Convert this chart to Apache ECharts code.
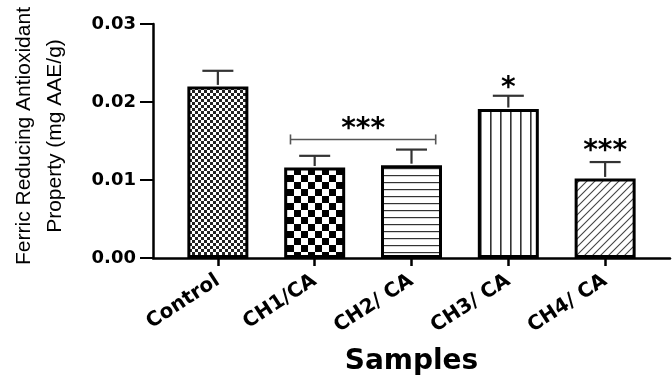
<!DOCTYPE html>
<html>
<head>
<meta charset="utf-8">
<script src="https://cdn.jsdelivr.net/npm/echarts@6/dist/echarts.min.js"></script>
<style>
html,body{margin:0;padding:0;background:#fff;}
#chart{width:672px;height:375px;}
</style>
</head>
<body>
<div id="chart"></div>
<script>
// ---- data ----
const categories = ['Control', 'CH1/CA', 'CH2/ CA', 'CH3/ CA', 'CH4/ CA'];
const means = [0.0220, 0.0116, 0.0119, 0.0191, 0.0102];
const errors = [0.0020, 0.0015, 0.0020, 0.0017, 0.0021];
const yTicks = [0, 0.01, 0.02, 0.03];
const sigText = ['***', '*', '***'];
const sigX = [1.5, 3, 4];
const sigY = [0.0171, 0.0224, 0.0143];
const bracketFrom = [0.75];
const bracketTo = [2.25];
const bracketY = [0.0152];
const xTitle = 'Samples';
const yTitle = 'Ferric Reducing Antioxidant\nProperty (mg AAE/g)';

// ---- patterns ----
function mk(w, h, draw) {
  const c = document.createElement('canvas');
  c.width = w; c.height = h;
  const g = c.getContext('2d');
  g.fillStyle = '#fff'; g.fillRect(0, 0, w, h);
  draw(g, w, h);
  return { image: c, repeat: 'repeat' };
}
const patterns = [
  mk(6, 6, (g) => { g.fillStyle = '#222'; g.fillRect(0, 0, 3, 3); g.fillRect(3, 3, 3, 3); }),
  mk(14, 14, (g) => { g.fillStyle = '#000'; g.fillRect(0, 0, 7, 7); g.fillRect(7, 7, 7, 7); }),
  mk(7, 7, (g) => { g.fillStyle = '#333'; g.fillRect(0, 0, 7, 1.2); }),
  mk(10.5, 10, (g) => { g.fillStyle = '#333'; g.fillRect(0, 0, 1.6, 10); }),
  mk(8, 8, (g) => { g.strokeStyle = '#444'; g.lineWidth = 1.1; g.beginPath();
    g.moveTo(-1, 9); g.lineTo(9, -1); g.moveTo(-1, 1); g.lineTo(1, -1); g.moveTo(7, 9); g.lineTo(9, 7); g.stroke(); })
];

const barData = means.map((v, i) => ({
  value: [i, v],
  itemStyle: { color: patterns[i] }
}));
const errData = means.map((v, i) => [i, v, errors[i]]);
const sigData = sigText.map((t, i) => [sigX[i], sigY[i], i]);
const bracketData = bracketFrom.map((f, i) => [f, bracketTo[i], bracketY[i]]);

const chart = echarts.init(document.getElementById('chart'), null, { renderer: 'canvas' });
const boldFont = 'DejaVu Sans';
chart.setOption({
  animation: false,
  backgroundColor: '#fff',
  grid: { left: 153, right: 2, top: 24, bottom: 117, containLabel: false, outerBoundsMode: 'none' },
  xAxis: {
    type: 'value',
    min: -0.67, max: 4.67,
    splitLine: { show: false },
    axisLine: { show: true, onZero: false, lineStyle: { color: '#000', width: 2.5 } },
    axisTick: { show: true, customValues: [0, 1, 2, 3, 4], length: 8, lineStyle: { color: '#000', width: 2.5 } },
    axisLabel: {
      customValues: [0, 1, 2, 3, 4],
      formatter: (v) => categories[Math.round(v)],
      rotate: 33, margin: 21,
      fontFamily: boldFont, fontWeight: 'bold', fontSize: 20, color: '#000'
    }
  },
  yAxis: {
    type: 'value', min: 0, max: 0.03, interval: 0.01,
    splitLine: { show: false },
    axisLine: { show: true, onZero: false, lineStyle: { color: '#000', width: 2.5 } },
    axisTick: { show: true, length: 13, lineStyle: { color: '#000', width: 2 } },
    axisLabel: {
      margin: 17,
      formatter: (v) => v.toFixed(2),
      fontFamily: boldFont, fontWeight: 'bold', fontSize: 18, color: '#000'
    }
  },
  graphic: [{
    type: 'text', x: 40, y: 136, rotation: Math.PI / 2,
    style: {
      text: yTitle,
      font: '21px "Liberation Sans", sans-serif',
      fill: '#000', textAlign: 'center', textVerticalAlign: 'middle', lineHeight: 31
    }
  }, {
    type: 'text', x: 411.5, y: 362,
    style: {
      text: xTitle,
      font: 'bold 28px "DejaVu Sans"',
      fill: '#000', textAlign: 'center', textVerticalAlign: 'middle'
    }
  }],
  series: [
    {
      type: 'bar', data: barData, barWidth: 61, z: 2,
      itemStyle: { borderColor: '#000', borderWidth: 3 }
    },
    {
      type: 'custom', data: errData, z: 3,
      renderItem: (params, api) => {
        const x = api.value(0), m = api.value(1), e = api.value(2);
        const p0 = api.coord([x, m]);
        const p1 = api.coord([x, m + e]);
        const st = { stroke: '#333', lineWidth: 2.2 };
        return {
          type: 'group', children: [
            { type: 'line', shape: { x1: p0[0], y1: p0[1] - 1.5, x2: p1[0], y2: p1[1] }, style: st },
            { type: 'line', shape: { x1: p1[0] - 15.5, y1: p1[1], x2: p1[0] + 15.5, y2: p1[1] }, style: st }
          ]
        };
      }
    },
    {
      type: 'custom', data: bracketData, z: 3,
      renderItem: (params, api) => {
        const a = api.coord([api.value(0), api.value(2)]);
        const b = api.coord([api.value(1), api.value(2)]);
        const st = { stroke: '#555', lineWidth: 1.6 };
        return {
          type: 'group', children: [
            { type: 'line', shape: { x1: a[0], y1: a[1], x2: b[0], y2: b[1] }, style: st },
            { type: 'line', shape: { x1: a[0], y1: a[1] - 5, x2: a[0], y2: a[1] + 5 }, style: st },
            { type: 'line', shape: { x1: b[0], y1: b[1] - 5, x2: b[0], y2: b[1] + 5 }, style: st }
          ]
        };
      }
    },
    {
      type: 'custom', data: sigData, z: 4,
      renderItem: (params, api) => {
        const p = api.coord([api.value(0), api.value(1)]);
        const t = sigText[api.value(2)];
        return {
          type: 'text', x: p[0], y: p[1] + 5,
          style: {
            text: t, fill: '#000', align: 'center', verticalAlign: 'middle',
            font: 'bold 28px "DejaVu Sans"'
          }
        };
      }
    }
  ]
});
</script>
</body>
</html>
